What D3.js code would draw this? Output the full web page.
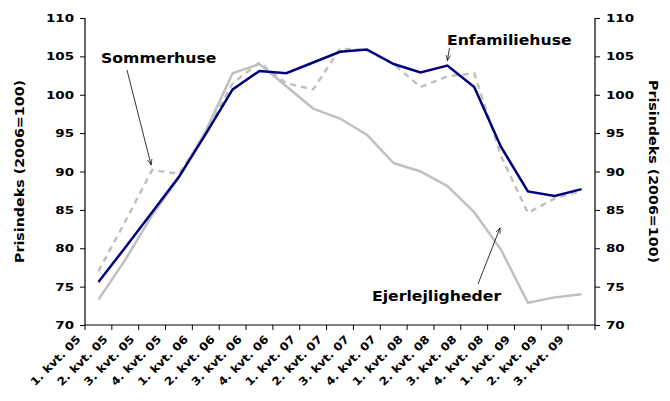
<!DOCTYPE html>
<html>
<head>
<meta charset="utf-8">
<script src="https://cdn.jsdelivr.net/npm/d3@7/dist/d3.min.js"></script>
<style>
  body { margin: 0; background: #fff; }
  svg text { font-family: "DejaVu Sans", Verdana, sans-serif; font-weight: bold; fill: #000; }
</style>
</head>
<body>
<div id="container"></div>
<script>
var quarters = ["1. kvt. 05","2. kvt. 05","3. kvt. 05","4. kvt. 05",
                "1. kvt. 06","2. kvt. 06","3. kvt. 06","4. kvt. 06",
                "1. kvt. 07","2. kvt. 07","3. kvt. 07","4. kvt. 07",
                "1. kvt. 08","2. kvt. 08","3. kvt. 08","4. kvt. 08",
                "1. kvt. 09","2. kvt. 09","3. kvt. 09"];

var enfamiliehuse   = [75.6, 80.1, 84.7, 89.3, 94.9, 100.7, 103.1, 102.8, 104.2, 105.6, 105.9, 104.0, 102.9, 103.8, 101.0, 93.2, 87.4, 86.8, 87.7];
var ejerlejligheder = [73.3, 78.5, 84.3, 89.2, 95.3, 102.8, 104.0, 101.1, 98.2, 96.9, 94.8, 91.1, 90.0, 88.1, 84.7, 79.8, 72.9, 73.6, 74.0];
var sommerhuse      = [77.0, 83.5, 90.2, 89.7, 95.0, 101.5, 104.2, 101.5, 100.7, 106.0, 105.8, 104.0, 101.0, 102.4, 102.8, 92.0, 84.6, 86.5, 87.5];

var yTicks = [70, 75, 80, 85, 90, 95, 100, 105, 110];
var yTitle = "Prisindeks (2006=100)";

var width = 670, height = 401;
var margin = {left: 85, right: 75, top: 18, bottom: 76};

var svg = d3.select("#container").append("svg")
    .attr("width", width)
    .attr("height", height);

var x = d3.scaleBand()
    .domain(quarters)
    .range([margin.left, width - margin.right]);

var y = d3.scaleLinear()
    .domain([70, 110])
    .range([height - margin.bottom, margin.top]);

function cx(i) { return x(quarters[i]) + x.bandwidth() / 2; }

//stretch text a bit, the original font is wider than DejaVu
function widen(sel, k) {
  sel.each(function() {
    var len = this.getComputedTextLength();
    d3.select(this).attr("textLength", len * k).attr("lengthAdjust", "spacingAndGlyphs");
  });
}

//Axes
var left = svg.append("g")
    .attr("transform", "translate(" + margin.left + ",0)")
    .call(d3.axisLeft(y).tickValues(yTicks).tickSize(5).tickPadding(6));

var right = svg.append("g")
    .attr("transform", "translate(" + (width - margin.right) + ",0)")
    .call(d3.axisRight(y).tickValues(yTicks).tickSize(5).tickPadding(6));

[left, right].forEach(function(g) {
  g.select(".domain").attr("stroke", "#000").attr("stroke-width", 1.2)
      .attr("d", "M0," + y(110) + "V" + y(70));
  g.selectAll(".tick line").attr("stroke", "#000");
  g.selectAll(".tick text").style("font-size", "11px");
  widen(g.selectAll(".tick text"), 1.22);
});

//bottom axis, ticks at band edges
var bottom = svg.append("g");
bottom.append("line")
    .attr("x1", margin.left).attr("x2", width - margin.right)
    .attr("y1", y(70)).attr("y2", y(70))
    .attr("stroke", "#000").attr("stroke-width", 1.2);

bottom.selectAll("line.tick")
    .data(quarters.concat(["end"]))
    .enter().append("line")
    .attr("class", "tick")
    .attr("x1", function(d, i) { return margin.left + i * x.step(); })
    .attr("x2", function(d, i) { return margin.left + i * x.step(); })
    .attr("y1", y(70)).attr("y2", y(70) + 5)
    .attr("stroke", "#000");

var xl = bottom.selectAll("text")
    .data(quarters)
    .enter().append("text")
    .attr("text-anchor", "end")
    .style("font-size", "11px")
    .attr("transform", function(d, i) {
      return "translate(" + (cx(i) - 17) + "," + (y(70) + 15) + ") rotate(-45)";
    })
    .text(function(d) { return d; });
widen(xl, 1.12);

//Axis titles
var lt = svg.append("text")
    .attr("transform", "translate(24," + y(90) + ") rotate(-90)")
    .attr("text-anchor", "middle")
    .style("font-size", "11.5px")
    .text(yTitle);
widen(lt, 1.24);

var rt = svg.append("text")
    .attr("transform", "translate(649," + y(90) + ") rotate(90)")
    .attr("text-anchor", "middle")
    .style("font-size", "11.5px")
    .text(yTitle);
widen(rt, 1.24);

//Lines
var line = d3.line()
    .x(function(d, i) { return cx(i); })
    .y(function(d) { return y(d); });

svg.append("path")
    .datum(ejerlejligheder)
    .attr("d", line)
    .attr("fill", "none")
    .attr("stroke", "#c0c0c0")
    .attr("stroke-width", 2.5);

svg.append("path")
    .datum(sommerhuse)
    .attr("d", line)
    .attr("fill", "none")
    .attr("stroke", "#c0c0c0")
    .attr("stroke-width", 2.5)
    .attr("stroke-dasharray", "6,5");

svg.append("path")
    .datum(enfamiliehuse)
    .attr("d", line)
    .attr("fill", "none")
    .attr("stroke", "#000080")
    .attr("stroke-width", 2.5);

//Annotations
svg.append("defs").append("marker")
    .attr("id", "arrow")
    .attr("viewBox", "0 0 10 10")
    .attr("refX", 10).attr("refY", 5)
    .attr("markerWidth", 7).attr("markerHeight", 7)
    .attr("orient", "auto")
    .append("path")
    .attr("d", "M0,1L10,5L0,9")
    .attr("fill", "none")
    .attr("stroke", "#000")
    .attr("stroke-width", 1.2);

function annotate(label, tx, ty, from, to) {
  var t = svg.append("text")
      .attr("x", tx).attr("y", ty)
      .style("font-size", "14px")
      .text(label);
  widen(t, 1.12);
  svg.append("line")
      .attr("x1", from[0]).attr("y1", from[1])
      .attr("x2", to[0]).attr("y2", to[1])
      .attr("stroke", "#000").attr("stroke-width", 0.8)
      .attr("marker-end", "url(#arrow)");
}

annotate("Sommerhuse", 101, 63, [127, 70], [cx(2) - 1, y(sommerhuse[2]) - 5]);
annotate("Enfamiliehuse", 447, 45, [449.5, 48], [cx(13), y(enfamiliehuse[13]) - 5]);
annotate("Ejerlejligheder", 372, 301, [478, 284], [cx(15) - 1, y(ejerlejligheder[15]) - 22]);
</script>
</body>
</html>
